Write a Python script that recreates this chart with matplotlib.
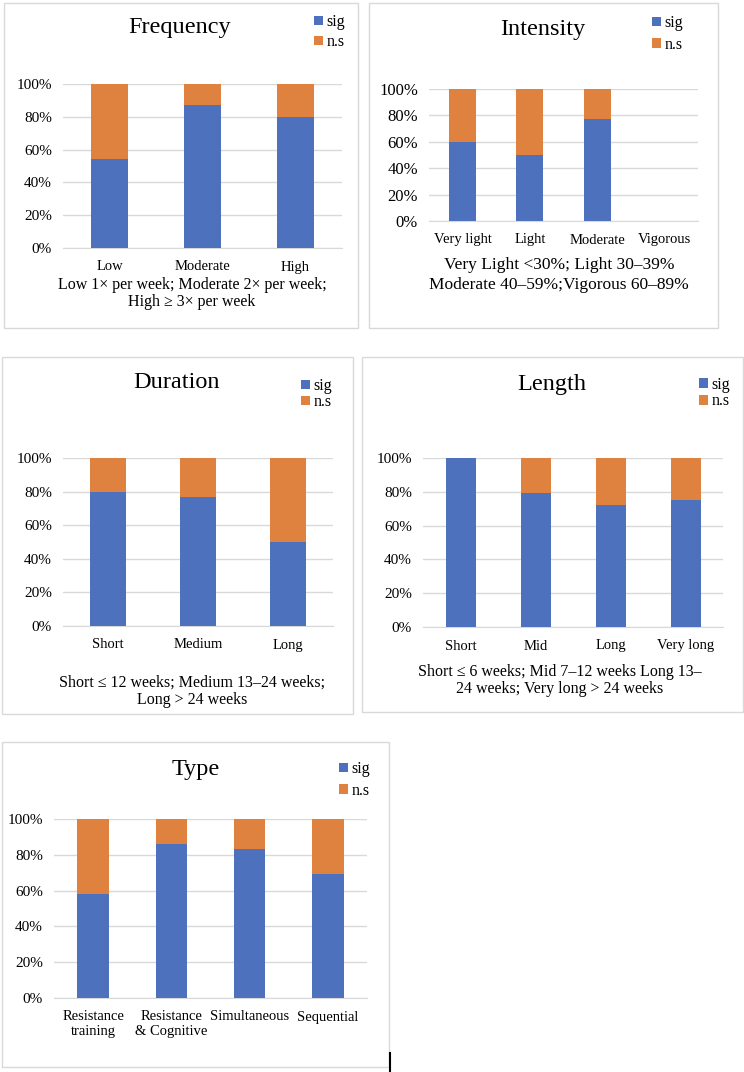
import matplotlib
matplotlib.use('Agg')
import matplotlib.pyplot as plt
from matplotlib.patches import Rectangle
from matplotlib.ticker import PercentFormatter

W, H = 744, 1072
plt.rcParams['font.family'] = ['Liberation Serif', 'DejaVu Serif']

BLUE = '#4e71be'
ORANGE = '#e0823f'
GRID = '#d9d9d9'

# data (percent of studies)
freq_cats = ['Low', 'Moderate', 'High']
freq_sig = [54, 87, 80]
freq_ns = [46, 13, 20]

int_cats = ['Very light', 'Light', 'Moderate', 'Vigorous']
int_sig = [60, 50, 77.5, 0]
int_ns = [40, 50, 22.5, 0]

dur_cats = ['Short', 'Medium', 'Long']
dur_sig = [80, 77, 50]
dur_ns = [20, 23, 50]

len_cats = ['Short', 'Mid', 'Long', 'Very long']
len_sig = [100, 79, 72, 75]
len_ns = [0, 21, 28, 25]

type_cats = ['Resistance\ntraining', 'Resistance\n& Cognitive', 'Simultaneous', 'Sequential']
type_sig = [58, 86, 83, 69]
type_ns = [42, 14, 17, 31]

fig = plt.figure(figsize=(W / 100, H / 100), dpi=100)


def fx(x):
    return x / W


def fy(y):
    return 1 - y / H


def panel(border, axbox, title, title_xy, cats, sig, ns, leg_xy, leg_sp,
          foot, foot_x, foot_y, foot_size, tick_size=10.5, ytick_size=11):
    x0, y0, x1, y1 = border
    fig.add_artist(Rectangle((fx(x0), fy(y1)), fx(x1 - x0), (y1 - y0) / H,
                             transform=fig.transFigure, fill=False,
                             edgecolor='#d9d9d9', linewidth=1.0))
    a0, b0, a1, b1 = axbox
    ax = fig.add_axes([fx(a0), fy(b1), fx(a1 - a0), (b1 - b0) / H])
    xs = list(range(len(cats)))
    ax.bar(xs, sig, width=0.4, color=BLUE, label='sig', zorder=3)
    ax.bar(xs, ns, width=0.4, bottom=sig, color=ORANGE, label='n.s', zorder=3)
    ax.set_xlim(-0.5, len(cats) - 0.5)
    ax.set_ylim(0, 100)
    ax.set_yticks([0, 20, 40, 60, 80, 100])
    ax.yaxis.set_major_formatter(PercentFormatter(decimals=0))
    ax.set_xticks(xs)
    ax.set_xticklabels(cats, fontsize=tick_size, linespacing=1.15)
    ax.tick_params(axis='y', labelsize=ytick_size, length=0, pad=8)
    ax.tick_params(axis='x', length=0, pad=9)
    ax.grid(axis='y', color=GRID, linewidth=1.0, zorder=0)
    for s in ['top', 'right', 'left']:
        ax.spines[s].set_visible(False)
    ax.spines['bottom'].set_color(GRID)
    ax.spines['bottom'].set_zorder(2)
    fig.text(fx(title_xy[0]), fy(title_xy[1]), title, fontsize=17.5,
             ha='center', va='center')
    ax.legend(loc='center left', bbox_to_anchor=(fx(leg_xy[0]), fy(leg_xy[1])),
              bbox_transform=fig.transFigure, frameon=False, fontsize=11.5,
              handlelength=0.55, handleheight=0.55, handletextpad=0.25,
              labelspacing=leg_sp, borderpad=0, borderaxespad=0)
    for i, line in enumerate(foot):
        fig.text(fx(foot_x), fy(foot_y[i]), line, fontsize=foot_size,
                 ha='center', va='center')
    return ax


panel((4, 3, 358, 328), (63, 84, 342, 248), 'Frequency', (180, 28),
      freq_cats, freq_sig, freq_ns, (314, 32), 0.25,
      ['Low 1\u00d7 per week; Moderate 2\u00d7 per week;',
       'High \u2265 3\u00d7 per week'], 192, [285, 302], 11.5)

panel((369, 3, 718, 328), (429, 89, 698, 221), 'Intensity', (543, 29),
      int_cats, int_sig, int_ns, (652, 34), 0.35,
      ['Very Light <30%; Light 30\u201339%',
       'Moderate 40\u201359%;Vigorous 60\u201389%'], 559, [265, 285], 12.5,
      ytick_size=12)

panel((2, 357, 353, 714), (63, 458, 333, 626), 'Duration', (177, 383),
      dur_cats, dur_sig, dur_ns, (301, 394), 0.0,
      ['Short \u2264 12 weeks; Medium 13\u201324 weeks;',
       'Long > 24 weeks'], 192, [683, 700], 11.5)

panel((362, 357, 743, 712), (423, 458, 723, 627), 'Length', (552, 385),
      len_cats, len_sig, len_ns, (699, 393), 0.05,
      ['Short \u2264 6 weeks; Mid 7\u201312 weeks Long 13\u2013',
       '24 weeks; Very long > 24 weeks'], 560, [672, 689], 11.5)

panel((2, 742, 389, 1067), (54, 819, 367, 998), 'Type', (196, 770),
      type_cats, type_sig, type_ns, (339, 780), 0.35,
      [], 196, [], 11.5)

# stray cursor mark at bottom
fig.add_artist(plt.Line2D([fx(390), fx(390)], [fy(1053), fy(1072)],
                          transform=fig.transFigure, color='black', linewidth=1.5))

fig.savefig('out.png', dpi=100)
